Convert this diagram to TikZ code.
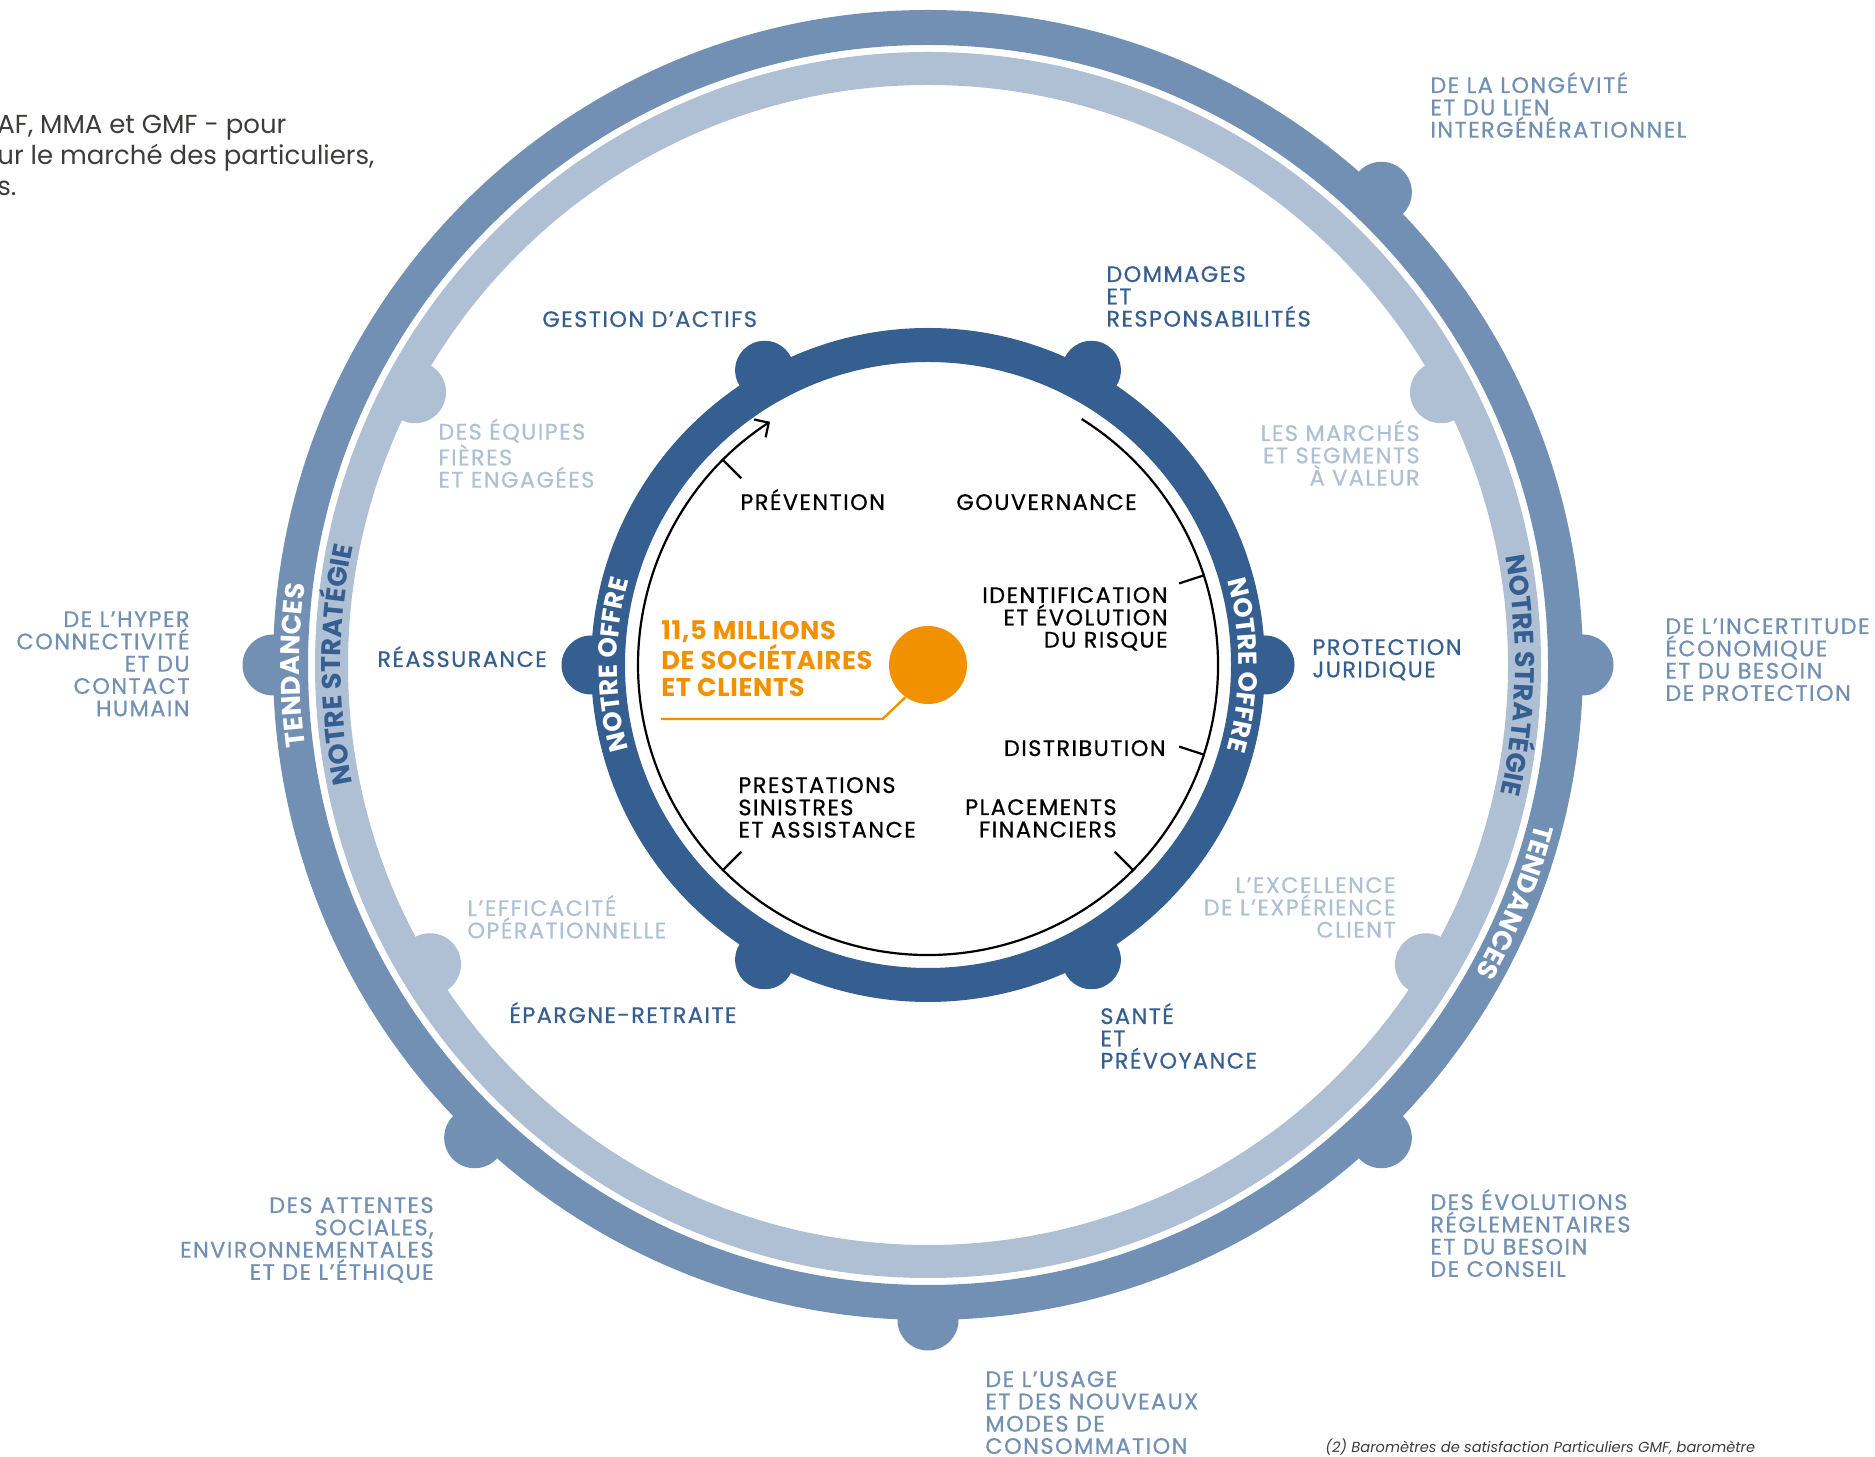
\documentclass[tikz,border=0pt]{standalone}
\usepackage{fontspec}
\setmainfont{Poppins}
\newfontfamily\lblfont{Poppins}[LetterSpace=6.5, FakeBold=0.7]
\newfontfamily\orfont{Poppins}[LetterSpace=2.5]
\usetikzlibrary{calc,decorations.text,arrows.meta}
\definecolor{offre}{RGB}{54,95,145}
\definecolor{tend}{RGB}{113,144,180}
\definecolor{strat}{RGB}{175,192,213}
\definecolor{orng}{RGB}{242,145,0}
\definecolor{para}{RGB}{60,60,59}
\begin{document}
\begin{tikzpicture}[x=0.5pt,y=0.5pt,
  lbl/.style={inner sep=0pt, font=\lblfont\fontsize{11.2pt}{11.15pt}\selectfont},
  offrelbl/.style={lbl, text=offre},
  stratlbl/.style={lbl, text=strat},
  tendlbl/.style={lbl, text=tend},
  metier/.style={lbl, text=black},
  bw/.style={anchor=base west, align=left},
  be/.style={anchor=base east, align=right},
  thin/.style={line width=1.1pt, black},
]
\useasboundingbox (0,0) rectangle (1875,1457);
\coordinate (C) at (928,792);

% outer ring: tendances
\draw[tend, line width=17.5pt] (C) circle[radius=637.5];
\foreach \a in {46.2,0,-46.2,-90,-133.8,180}
  \fill[tend] ($(C)+(\a:655)$) circle[radius=30.5];
% middle ring: strategie
\draw[strat, line width=16.5pt] (C) circle[radius=596.5];
\foreach \a in {28,152,-31,-149}
  \fill[strat] ($(C)+(\a:581)$) circle[radius=31];
% inner ring: offre
\draw[offre, line width=17pt] (C) circle[radius=320];
\foreach \a in {61,119,0,180,-61,-119}
  \fill[offre] ($(C)+(\a:337)$) circle[radius=29.5];

% black cycle
\draw[thin, -{Straight Barb[length=5.3pt,width=10.6pt]}] ($(C)+(58:290)$) arc[start angle=58, end angle=-237, radius=290];
\foreach \a in {135,18,-18,-45,-135}
  \draw[thin] ($(C)+(\a:291)$) -- ($(C)+(\a:264)$);

% curved ring titles
\path[decorate, decoration={text along path, text align=center, text color=white,
   text={|\fontsize{13pt}{13pt}\selectfont\bfseries|NOTRE OFFRE}}]
   ($(C)+(260:311)$) arc[start angle=260, end angle=100, radius=311];
\path[decorate, decoration={text along path, text align=center, text color=white,
   text={|\fontsize{13pt}{13pt}\selectfont\bfseries|NOTRE OFFRE}}]
   ($(C)+(80:311)$) arc[start angle=80, end angle=-80, radius=311];
\path[decorate, decoration={text along path, text align=center, text color=white,
   text={|\fontsize{13.5pt}{13.5pt}\selectfont\bfseries|TENDANCES}}]
   ($(C)+(260:628)$) arc[start angle=260, end angle=100, radius=628];
\path[decorate, decoration={text along path, text align=center, text color=white,
   text={|\fontsize{13.5pt}{13.5pt}\selectfont\bfseries|TENDANCES}}]
   ($(C)+(58:628)$) arc[start angle=58, end angle=-102, radius=628];
\path[decorate, decoration={text along path, text align=center, text color=offre,
   text={|\fontsize{13.5pt}{13.5pt}\selectfont\bfseries|NOTRE STRATÉGIE}}]
   ($(C)+(260:587)$) arc[start angle=260, end angle=100, radius=587];
\path[decorate, decoration={text along path, text align=center, text color=offre,
   text={|\fontsize{13.5pt}{13.5pt}\selectfont\bfseries|NOTRE STRATÉGIE}}]
   ($(C)+(79:587)$) arc[start angle=79, end angle=-81, radius=587];

% centre
\node[circle, fill=orng, minimum size=39pt, inner sep=0pt] (core) at (C) {};
\node[bw, inner sep=0pt, text=orng, font=\orfont\fontsize{12.85pt}{13.75pt}\selectfont\bfseries] (millions) at (661,760)
  {11,5 MILLIONS\\DE SOCIÉTAIRES\\ET CLIENTS};
\coordinate (lead1) at (661,738);
\coordinate (lead2) at (882.6,738);
\draw[orng, line width=1.2pt] (lead1) -- (lead2) -- (core.235);

% metiers (inside)
\node[metier, bw] (prev) at (740,947) {PRÉVENTION};
\node[metier, bw] (gouv) at (956,947) {GOUVERNANCE};
\node[metier, be] (ident) at (1168,809.4) {IDENTIFICATION\\ET ÉVOLUTION\\DU RISQUE};
\node[metier, be] (distr) at (1166,701) {DISTRIBUTION};
\node[metier, be] (plac) at (1117,619.7) {PLACEMENTS\\FINANCIERS};
\node[metier, bw] (prest) at (738,619.4) {PRESTATIONS\\SINISTRES\\ET ASSISTANCE};

% offre labels
\node[offrelbl, bw] (gestion) at (542,1130) {GESTION D’ACTIFS};
\node[offrelbl, bw] (dommages) at (1106,1130.4) {DOMMAGES\\ET\\RESPONSABILITÉS};
\node[offrelbl, bw] (protection) at (1312,779.7) {PROTECTION\\JURIDIQUE};
\node[offrelbl, bw] (sante) at (1100,388.4) {SANTÉ\\ET\\PRÉVOYANCE};
\node[offrelbl, bw] (epargne) at (509,434) {ÉPARGNE-RETRAITE};
\node[offrelbl, bw] (reass) at (377,790) {RÉASSURANCE};

% strategie labels
\node[stratlbl, bw] (equipes) at (438,969.4) {DES ÉQUIPES\\FIÈRES\\ET ENGAGÉES};
\node[stratlbl, be] (marches) at (1420,971.4) {LES MARCHÉS\\ET SEGMENTS\\À VALEUR};
\node[stratlbl, bw] (effic) at (467,518.7) {L’EFFICACITÉ\\OPÉRATIONNELLE};
\node[stratlbl, be] (excel) at (1396,519.4) {L’EXCELLENCE\\DE L’EXPÉRIENCE\\CLIENT};

% tendances labels
\node[tendlbl, bw] (longev) at (1430,1319.4) {DE LA LONGÉVITÉ\\ET DU LIEN\\INTERGÉNÉRATIONNEL};
\node[tendlbl, bw] (incert) at (1665,756.1) {DE L’INCERTITUDE\\ÉCONOMIQUE\\ET DU BESOIN\\DE PROTECTION};
\node[tendlbl, bw] (evol) at (1430,180.1) {DES ÉVOLUTIONS\\RÉGLEMENTAIRES\\ET DU BESOIN\\DE CONSEIL};
\node[tendlbl, bw] (usage) at (985,3.1) {DE L’USAGE\\ET DES NOUVEAUX\\MODES DE\\CONSOMMATION};
\node[tendlbl, be] (attentes) at (434,177.1) {DES ATTENTES\\SOCIALES,\\ENVIRONNEMENTALES\\ET DE L’ÉTHIQUE};
\node[tendlbl, be] (hyper) at (190,740.8) {DE L’HYPER\\CONNECTIVITÉ\\ET DU\\CONTACT\\HUMAIN};

% cut intro text and footnote
\node[bw, inner sep=0pt, text=para, font=\fontsize{13pt}{15.5pt}\selectfont] (intro) at (-3,1261)
  {AF, MMA et GMF - pour\\ur le marché des particuliers,\\s.};
\node[bw, inner sep=0pt, text=para, font=\fontsize{7.3pt}{9pt}\selectfont\itshape] (note) at (1325,4)
  {(2) Baromètres de satisfaction Particuliers GMF, baromètre};
\end{tikzpicture}
\end{document}
